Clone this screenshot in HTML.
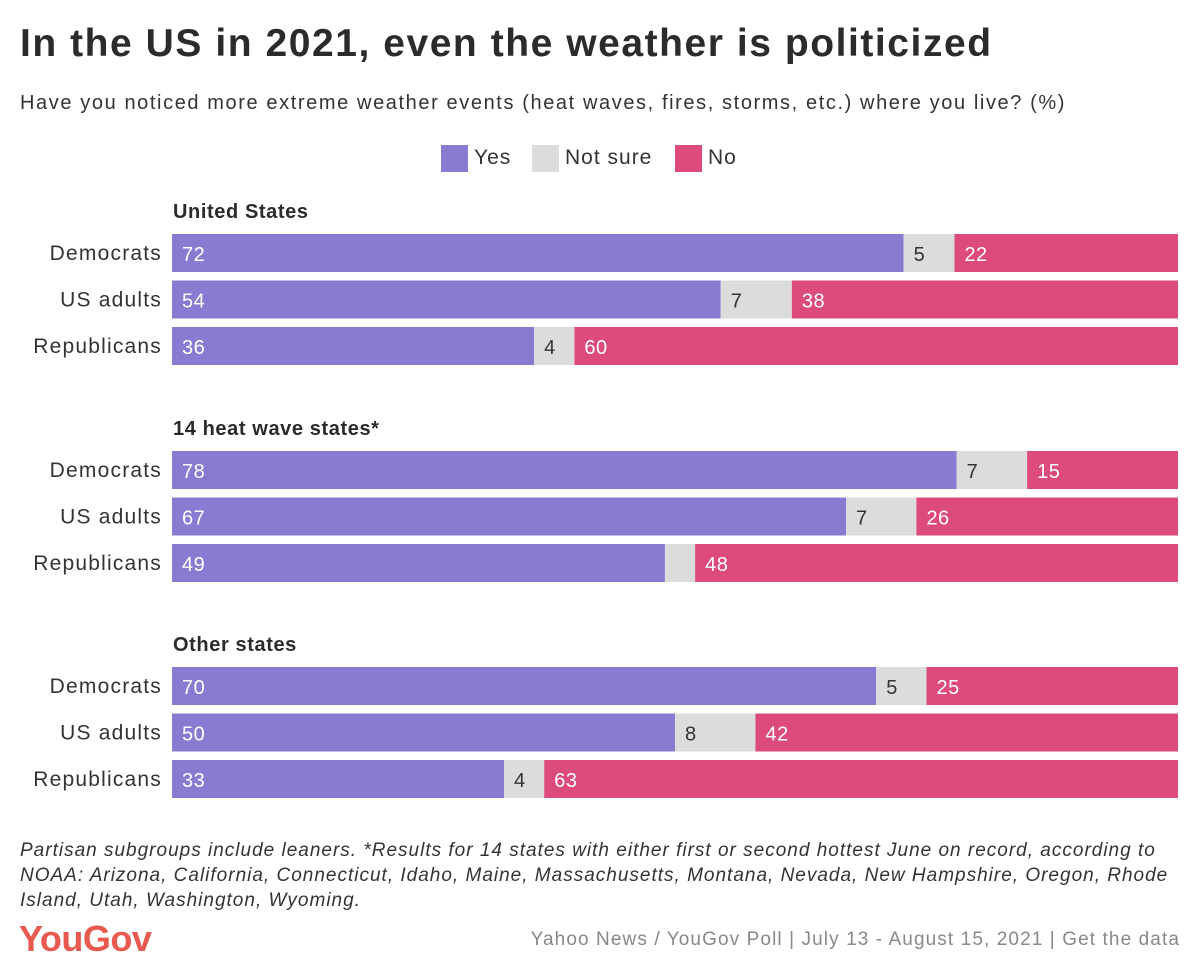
<!DOCTYPE html>
<html><head><meta charset="utf-8"><style>
body{margin:0;background:#fff;font-family:"Liberation Sans",sans-serif;color:#333;}
#wrap{position:relative;width:1200px;height:977px;overflow:hidden;}
.t{position:absolute;white-space:nowrap;}
</style></head><body>
<div id="wrap">
<div class="t" style="left:20px;top:22px;font-size:39px;font-weight:bold;color:#2b2b2b;letter-spacing:1.55px;">In the US in 2021, even the weather is politicized</div>
<div class="t" style="left:20px;top:92px;font-size:20px;color:#333;letter-spacing:1.6px;">Have you noticed more extreme weather events (heat waves, fires, storms, etc.) where you live? (%)</div>
<div>
<div class="t" style="left:441px;top:145px;font-size:21px;letter-spacing:1px;"><span style="display:inline-block;width:27px;height:27px;background:#887bd2;vertical-align:middle;margin-right:6px"></span>Yes</div>
<div class="t" style="left:532px;top:145px;font-size:21px;letter-spacing:1px;"><span style="display:inline-block;width:27px;height:27px;background:#dcdcdc;vertical-align:middle;margin-right:6px"></span>Not sure</div>
<div class="t" style="left:675px;top:145px;font-size:21px;letter-spacing:1px;"><span style="display:inline-block;width:27px;height:27px;background:#dc4a7e;vertical-align:middle;margin-right:6px"></span>No</div>
</div>
<svg id="svg" width="1200" height="977" style="position:absolute;left:0;top:0"></svg>
<div class="t" style="left:20px;top:838px;font-size:19px;font-style:italic;line-height:25px;white-space:normal;width:1160px;letter-spacing:1px;">Partisan subgroups include leaners. *Results for 14 states with either first or second hottest June on record, according to NOAA: Arizona, California, Connecticut, Idaho, Maine, Massachusetts, Montana, Nevada, New Hampshire, Oregon, Rhode Island, Utah, Washington, Wyoming.</div>
<div class="t" style="left:19px;top:918px;font-size:36px;font-weight:bold;color:#e8594f;letter-spacing:-0.5px;">YouGov</div>
<div class="t" style="right:20px;top:929px;font-size:19px;color:#888;letter-spacing:1.1px;">Yahoo News / YouGov Poll | July 13 - August 15, 2021 | Get the data</div>
</div>
<script>
const groups=["United States","14 heat wave states*","Other states"];
const rows=["Democrats","US adults","Republicans"];
const yesVals=[72,54,36,78,67,49,70,50,33];
const notSureVals=[5,7,4,7,7,3,5,8,4];
const noVals=[22,38,60,15,26,48,25,42,63];
const notSureLabels=["5","7","4","7","7","","5","8","4"];
const NS="http://www.w3.org/2000/svg";
const svg=document.getElementById('svg');
const x0=172,x1=1178;
const groupTop=[234,451,667],rowStep=46.5,barH=38;
function xs(v,total){return (x1-x0)*v/total;}
function mk(t,a){const e=document.createElementNS(NS,t);for(const k in a)e.setAttribute(k,a[k]);svg.appendChild(e);return e;}
groups.forEach((g,gi)=>{
  const h=mk('text',{x:173,y:groupTop[gi]-16,'font-size':20,'font-weight':'bold',fill:'#2b2b2b','font-family':'Liberation Sans','letter-spacing':0.6});
  h.textContent=g;
  
  
  rows.forEach((r,ri)=>{
    const i=gi*3+ri;
    const y=groupTop[gi]+ri*rowStep;
    const lab=mk('text',{x:162,y:y+26,'font-size':21,fill:'#333','text-anchor':'end','font-family':'Liberation Sans','letter-spacing':1.2});
    lab.textContent=r;
    
    
    const tot=yesVals[i]+notSureVals[i]+noVals[i];
    const segs=[[yesVals[i],'#887bd2','#fff',String(yesVals[i]),'bar-yes'],[notSureVals[i],'#dcdcdc','#333',notSureLabels[i],'bar-not-sure'],[noVals[i],'#dc4a7e','#fff',String(noVals[i]),'bar-no']];
    let x=x0;
    segs.forEach(s=>{
      const w=xs(s[0],tot);
      const rc=mk('rect',{x:x,y:y,width:w,height:barH,fill:s[1]});
      
      
      if(s[3]){
        const t=mk('text',{x:x+10,y:y+27,'font-size':20,fill:s[2],'font-family':'Liberation Sans','letter-spacing':0.5});
        t.textContent=s[3];
        
        
      }
      x+=w;
    });
  });
});
</script>
</body></html>
